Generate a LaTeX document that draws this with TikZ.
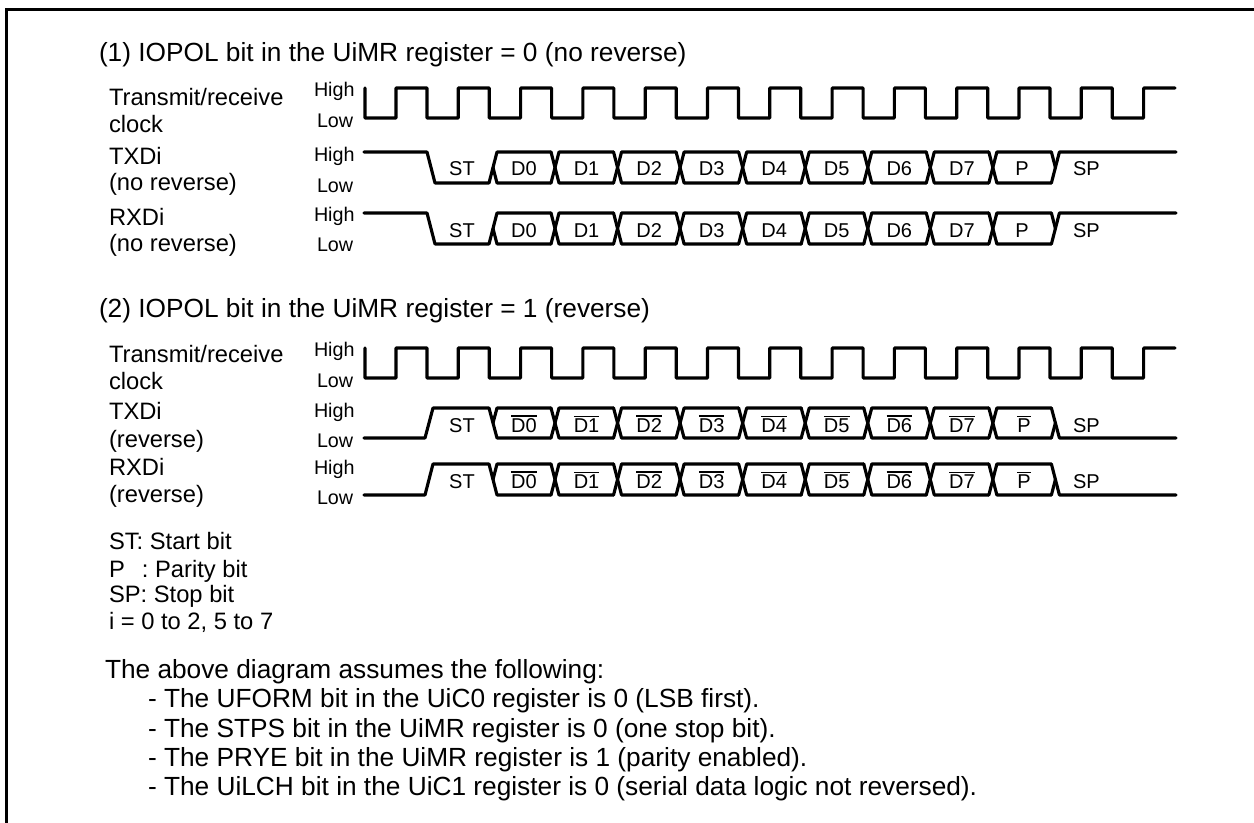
\documentclass[tikz,border=0pt]{standalone}
\usepackage{fontspec}
\setmainfont{Liberation Sans}
\newcommand{\ovl}[1]{\leavevmode\vbox{\hrule height 0.9pt \kern 1.9pt \hbox{#1}}}
\newcommand{\clockwave}[2]{%
  % #1 high y, #2 low y
  \draw[wave] (365,#1) -- (365,#2) -- (396,#2)
    \foreach \k in {0,...,11} { -- ({396+62.3*\k},#1) -- ({427+62.3*\k},#1) -- ({427+62.3*\k},#2) -- ({458.3+62.3*\k},#2) }
    -- (1143.6,#1) -- (1175,#1);}
\newcommand{\datacells}[2]{%
  % #1 high y, #2 low y: seven crossings between D0 and P
  \foreach \k in {1,...,8} {
    \draw[wave] ({551+62.55*(\k-1)},#1) -- ({559+62.55*(\k-1)},#2) -- ({551+62.55*\k},#2);
    \draw[wave] ({551+62.55*(\k-1)},#2) -- ({559+62.55*(\k-1)},#1) -- ({551+62.55*\k},#1);
  }}
\begin{document}
\begin{tikzpicture}[x=0.75pt,y=-0.75pt,
  wave/.style={line width=2.35pt,line join=round,line cap=round},
  txt/.style={anchor=base west,inner sep=0pt,outer sep=0pt},
  titletxt/.style={txt,font=\fontsize{19.7}{24}\selectfont},
  maintxt/.style={txt,font=\fontsize{17.8}{22}\selectfont},
  sidetxt/.style={txt,font=\fontsize{14.8}{18}\selectfont},
  bittxt/.style={anchor=base,inner sep=0pt,outer sep=0pt,font=\fontsize{15}{18}\selectfont},
  sptxt/.style={txt,font=\fontsize{15}{18}\selectfont}]
\useasboundingbox (0,0) rectangle (1254,823);
\draw[line width=2.25pt] (6.5,823) -- (6.5,9.5) -- (1254,9.5);

% titles
\node[titletxt] (t1) at (99,62) {(1) IOPOL bit in the UiMR register = 0 (no reverse)};
\node[titletxt] (t2) at (99,318) {(2) IOPOL bit in the UiMR register = 1 (reverse)};

% row labels, part 1
\node[maintxt] (a1) at (109,106) {Transmit/receive};
\node[maintxt] (a2) at (109,133) {clock};
\node[maintxt] (a3) at (109,165) {TXDi};
\node[maintxt] (a4) at (109,191) {(no reverse)};
\node[maintxt] (a5) at (109,226) {RXDi};
\node[maintxt] (a6) at (109,252) {(no reverse)};
\node[sidetxt] (h1) at (314,97) {High};
\node[sidetxt] (l1) at (317,128) {Low};
\node[sidetxt] (h2) at (314,162) {High};
\node[sidetxt] (l2) at (317,193) {Low};
\node[sidetxt] (h3) at (314,222) {High};
\node[sidetxt] (l3) at (317,252) {Low};

% row labels, part 2
\node[maintxt] (b1) at (109,363) {Transmit/receive};
\node[maintxt] (b2) at (109,390) {clock};
\node[maintxt] (b3) at (109,420) {TXDi};
\node[maintxt] (b4) at (109,448) {(reverse)};
\node[maintxt] (b5) at (109,476) {RXDi};
\node[maintxt] (b6) at (109,503) {(reverse)};
\node[sidetxt] (h4) at (314,357) {High};
\node[sidetxt] (l4) at (317,388) {Low};
\node[sidetxt] (h5) at (314,418) {High};
\node[sidetxt] (l5) at (317,448) {Low};
\node[sidetxt] (h6) at (314,475) {High};
\node[sidetxt] (l6) at (317,505) {Low};

% clocks
\clockwave{88}{118}
\clockwave{348}{378}

% no-reverse rows: high, low, text baseline
\foreach \hi/\lo/\bl/\r in {152/183/176/a,213/244/238/b} {
  \draw[wave] (364,\hi) -- (427,\hi) -- (435,\lo) -- (489,\lo) -- (497,\hi) -- (551,\hi);
  \draw[wave] (493,{(\hi+\lo)/2}) -- (497,\lo) -- (551,\lo);
  \datacells{\hi}{\lo}
  \draw[wave] (1051.4,\lo) -- (1059.4,\hi) -- (1176,\hi);
  \draw[wave] (1051.4,\hi) -- (1055.4,{(\hi+\lo)/2});
  \node[bittxt] (st\r) at (462,\bl) {ST};
  \foreach \lab [count=\n from 0] in {D0,D1,D2,D3,D4,D5,D6,D7} {
    \node[bittxt] (d\r\n) at ({524+62.55*\n},\bl) {\lab};
  }
  \node[bittxt] (p\r) at (1022,\bl) {P};
  \node[sptxt] (sp\r) at (1073,\bl) {SP};
}

% reverse rows
\foreach \hi/\lo/\bl/\r in {408/438/433/c,464/495/489/d} {
  \draw[wave] (364,\lo) -- (425,\lo) -- (433,\hi) -- (489,\hi) -- (497,\lo) -- (551,\lo);
  \draw[wave] (493,{(\hi+\lo)/2}) -- (497,\hi) -- (551,\hi);
  \datacells{\hi}{\lo}
  \draw[wave] (1051.4,\hi) -- (1059.4,\lo) -- (1176,\lo);
  \draw[wave] (1051.4,\lo) -- (1055.4,{(\hi+\lo)/2});
  \node[bittxt] (st\r) at (462,\bl) {ST};
  \foreach \lab [count=\n from 0] in {D0,D1,D2,D3,D4,D5,D6,D7} {
    \node[bittxt] (d\r\n) at ({524+62.55*\n},\bl) {\ovl{\lab}};
  }
  \node[bittxt] (p\r) at (1024,\bl) {\ovl{P}};
  \node[sptxt] (sp\r) at (1073,\bl) {SP};
}

% legend
\node[maintxt] (k1) at (109,550) {ST: Start bit};
\node[maintxt] (k2) at (109,577) {P\hspace{0.72em}: Parity bit};
\node[maintxt] (k3) at (109,603) {SP: Stop bit};
\node[maintxt] (k4) at (109,629) {i = 0 to 2, 5 to 7};

% notes
\node[titletxt] (n0) at (105,678) {The above diagram assumes the following:};
\node[titletxt] (n1) at (148,707) {- The UFORM bit in the UiC0 register is 0 (LSB first).};
\node[titletxt] (n2) at (148,737) {- The STPS bit in the UiMR register is 0 (one stop bit).};
\node[titletxt] (n3) at (148,766) {- The PRYE bit in the UiMR register is 1 (parity enabled).};
\node[titletxt] (n4) at (148,795) {- The UiLCH bit in the UiC1 register is 0 (serial data logic not reversed).};
\end{tikzpicture}
\end{document}
